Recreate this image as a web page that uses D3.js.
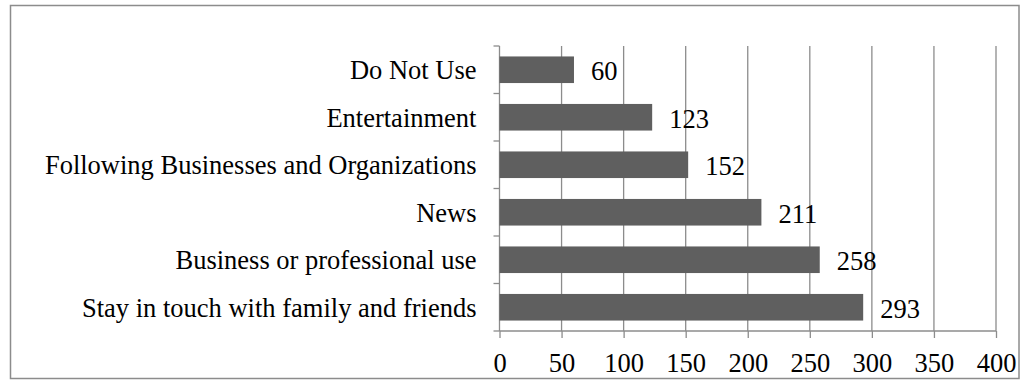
<!DOCTYPE html>
<html>
<head>
<meta charset="utf-8">
<script src="https://cdn.jsdelivr.net/npm/d3@7"></script>
<style>
  body { margin: 0; background: #fff; }
  svg { display: block; font-family: "Liberation Serif", "Times New Roman", serif; }
  .frame { fill: none; stroke: #8c8c8c; stroke-width: 1.5; }
  .grid line { stroke: #8c8c8c; stroke-width: 1.3; }
  .axis path, .axis line { stroke: #8c8c8c; stroke-width: 1.3; }
  .axis text { fill: #000; font-size: 26.5px; font-family: "Liberation Serif", "Times New Roman", serif; }
  .bar { fill: #5f5f5f; }
  .value { fill: #000; font-size: 26.5px; }
</style>
</head>
<body>
<div id="chart"></div>
<script>
const categories = [
  "Do Not Use",
  "Entertainment",
  "Following Businesses and Organizations",
  "News",
  "Business or professional use",
  "Stay in touch with family and friends",
];
const values = [60, 123, 152, 211, 258, 293];
const xTicks = [0, 50, 100, 150, 200, 250, 300, 350, 400];

const width = 1029;
const height = 381;
const margin = { top: 46, right: 33, bottom: 50, left: 499.5 };
const innerHeight = height - margin.top - margin.bottom;

const svg = d3.select("#chart").append("svg")
  .attr("width", width)
  .attr("height", height);

svg.append("rect")
  .attr("class", "frame")
  .attr("x", 10.5)
  .attr("y", 5.5)
  .attr("width", 1008.5)
  .attr("height", 373);

const plot = svg.append("g").attr("transform", `translate(${margin.left},${margin.top})`);

const x = d3.scaleLinear().domain([0, 400]).range([0, 496.5]);
const y = d3.scaleBand().domain(categories).range([0, innerHeight]).paddingInner(0.44).paddingOuter(0.22);

// vertical gridlines
plot.append("g").attr("class", "grid")
  .selectAll("line")
  .data(xTicks.slice(1))
  .join("line")
  .attr("x1", (d) => x(d))
  .attr("x2", (d) => x(d))
  .attr("y1", 0)
  .attr("y2", innerHeight);

// category axis, ticks sit on the band boundaries
const yAxis = plot.append("g").attr("class", "axis axis-y");
yAxis.append("line")
  .attr("x1", 0).attr("x2", 0)
  .attr("y1", 0).attr("y2", innerHeight);
const step = y.step();
yAxis.selectAll(".tick-mark")
  .data(d3.range(categories.length + 1))
  .join("line")
  .attr("class", "tick-mark")
  .attr("x1", -6).attr("x2", 0)
  .attr("y1", (i) => i * step)
  .attr("y2", (i) => i * step);
yAxis.selectAll("text")
  .data(categories)
  .join("text")
  .attr("x", -23)
  .attr("y", (d) => y(d) + y.bandwidth() / 2)
  .attr("dy", "0.35em")
  .attr("text-anchor", "end")
  .text((d) => d);

const xAxis = plot.append("g")
  .attr("class", "axis axis-x")
  .attr("transform", `translate(0,${innerHeight})`)
  .call(d3.axisBottom(x).tickValues(xTicks).tickSize(7).tickPadding(15).tickSizeOuter(0));
xAxis.attr("font-size", null).attr("font-family", null);
xAxis.select(".domain").attr("d", `M0,0H${x(400)}`);
xAxis.selectAll("text").attr("dy", "0.71em");

plot.append("g").selectAll("text")
  .data(categories)
  .join("text")
  .attr("class", "value")
  .attr("x", (d, i) => x(values[i]) + 17)
  .attr("y", (d) => y(d) + y.bandwidth() / 2 + 2)
  .attr("dy", "0.33em")
  .text((d, i) => values[i]);

plot.append("g").selectAll("rect")
  .data(categories)
  .join("rect")
  .attr("class", "bar")
  .attr("x", 0)
  .attr("y", (d) => y(d))
  .attr("width", (d, i) => x(values[i]))
  .attr("height", y.bandwidth());
</script>
</body>
</html>
